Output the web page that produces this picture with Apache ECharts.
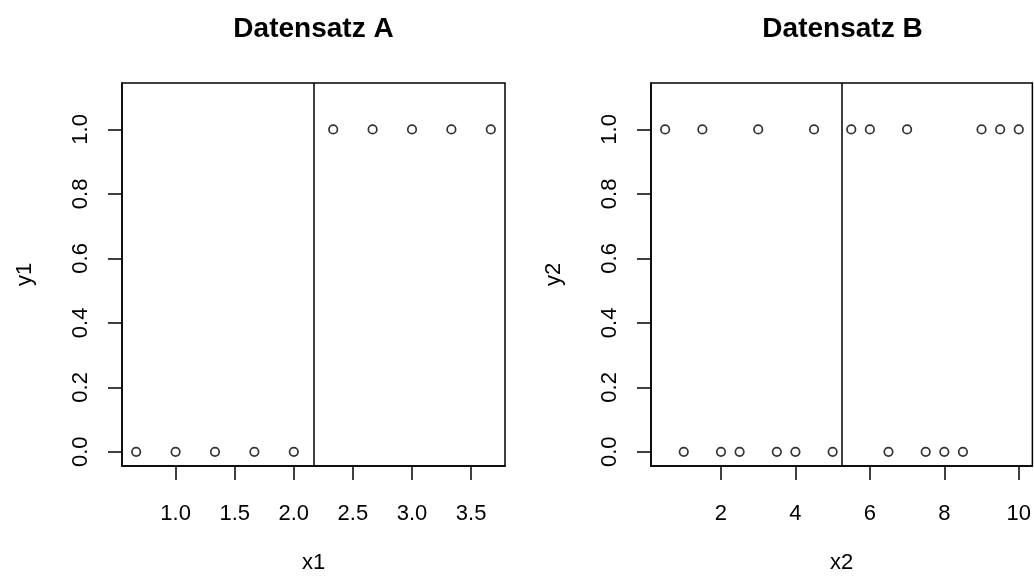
<!DOCTYPE html>
<html>
<head>
<meta charset="utf-8">
<script src="https://cdn.jsdelivr.net/npm/echarts@6/dist/echarts.min.js"></script>
<style>
html,body{margin:0;padding:0;background:#fff;}
#chart{width:1034px;height:579px;}
</style>
</head>
<body>
<div id="chart"></div>
<script>
// Datensatz A
var x1 = [0.6667, 1.0, 1.3333, 1.6667, 2.0, 2.3333, 2.6667, 3.0, 3.3333, 3.6667];
var y1 = [0, 0, 0, 0, 0, 1, 1, 1, 1, 1];
var cutA = [2.1667];
var xTicksA = [1.0, 1.5, 2.0, 2.5, 3.0, 3.5];

// Datensatz B
var x2 = [0.5, 1.0, 1.5, 2.0, 2.5, 3.0, 3.5, 4.0, 4.5, 5.0, 5.5, 6.0, 6.5, 7.0, 7.5, 8.0, 8.5, 9.0, 9.5, 10.0];
var y2 = [1, 0, 1, 0, 0, 1, 0, 0, 1, 0, 1, 1, 0, 1, 0, 0, 0, 1, 1, 1];
var cutB = [5.25];
var xTicksB = [2, 4, 6, 8, 10];

var yTicks = [0, 0.2, 0.4, 0.6, 0.8, 1.0];
var titles = ['Datensatz A', 'Datensatz B'];
var xNames = ['x1', 'x2'];
var yNames = ['y1', 'y2'];

var FONT = '"Liberation Sans", Arial, Helvetica, sans-serif';

function pairs(xs, ys) {
  return xs.map(function (x, i) { return [x, ys[i]]; });
}

function xAxisCfg(idx, min, max, ticks, digits) {
  return {
    type: 'value', gridIndex: idx, min: min, max: max, position: 'bottom',
    name: xNames[idx], nameLocation: 'middle', nameGap: 89,
    nameTextStyle: { fontSize: 22, lineHeight: 16, color: '#000', fontFamily: FONT },
    axisLine: { show: true, onZero: false, lineStyle: { color: '#000', width: 1.5 } },
    splitLine: { show: false },
    axisTick: { show: true, inside: false, length: 14, customValues: ticks,
      lineStyle: { color: '#000', width: 1.5 } },
    axisLabel: { show: true, customValues: ticks, margin: 37, fontSize: 22, color: '#000',
      fontFamily: FONT, formatter: function (v) { return v.toFixed(digits); } }
  };
}

function yAxisCfg(idx) {
  return {
    type: 'value', gridIndex: idx, min: -0.044, max: 1.144, position: 'left',
    name: yNames[idx], nameLocation: 'middle', nameGap: 86, nameRotate: 90,
    nameTextStyle: { fontSize: 22, color: '#000', fontFamily: FONT },
    axisLine: { show: true, onZero: false, lineStyle: { color: '#000', width: 1.5 } },
    splitLine: { show: false },
    axisTick: { show: true, inside: false, length: 14, customValues: yTicks,
      lineStyle: { color: '#000', width: 1.5 } },
    axisLabel: { show: true, customValues: yTicks, margin: 30, rotate: 90, fontSize: 22,
      color: '#000', fontFamily: FONT, formatter: function (v) { return v.toFixed(1); } }
  };
}

function scatterCfg(idx, data, cut) {
  return {
    type: 'scatter', xAxisIndex: idx, yAxisIndex: idx,
    data: data, symbol: 'circle', symbolSize: 8.5,
    itemStyle: { color: '#fff', borderColor: '#000', borderWidth: 1.7 },
    silent: true,
    markLine: {
      silent: true, symbol: ['none', 'none'], label: { show: false },
      lineStyle: { color: '#000', width: 1.5, type: 'solid' },
      data: cut.map(function (c) { return { xAxis: c }; })
    }
  };
}

var chart = echarts.init(document.getElementById('chart'), null, { renderer: 'canvas' });
chart.setOption({
  backgroundColor: '#fff',
  animation: false,
  title: [
    { text: titles[0], left: 313.5, top: 15, textAlign: 'center', padding: 0,
      textStyle: { fontSize: 28, fontWeight: 'bold', color: '#000', fontFamily: FONT } },
    { text: titles[1], left: 842.5, top: 15, textAlign: 'center', padding: 0,
      textStyle: { fontSize: 28, fontWeight: 'bold', color: '#000', fontFamily: FONT } }
  ],
  grid: [
    { left: 122, top: 83, width: 383, height: 393, show: true, borderColor: '#000', borderWidth: 1.5,
      backgroundColor: 'transparent' },
    { left: 651, top: 83, width: 382.5, height: 393, show: true, borderColor: '#000', borderWidth: 1.5,
      backgroundColor: 'transparent' }
  ],
  xAxis: [
    xAxisCfg(0, 0.5467, 3.7867, xTicksA, 1),
    xAxisCfg(1, 0.12, 10.366, xTicksB, 0)
  ],
  yAxis: [yAxisCfg(0), yAxisCfg(1)],
  series: [
    scatterCfg(0, pairs(x1, y1), cutA),
    scatterCfg(1, pairs(x2, y2), cutB)
  ]
});
</script>
</body>
</html>
